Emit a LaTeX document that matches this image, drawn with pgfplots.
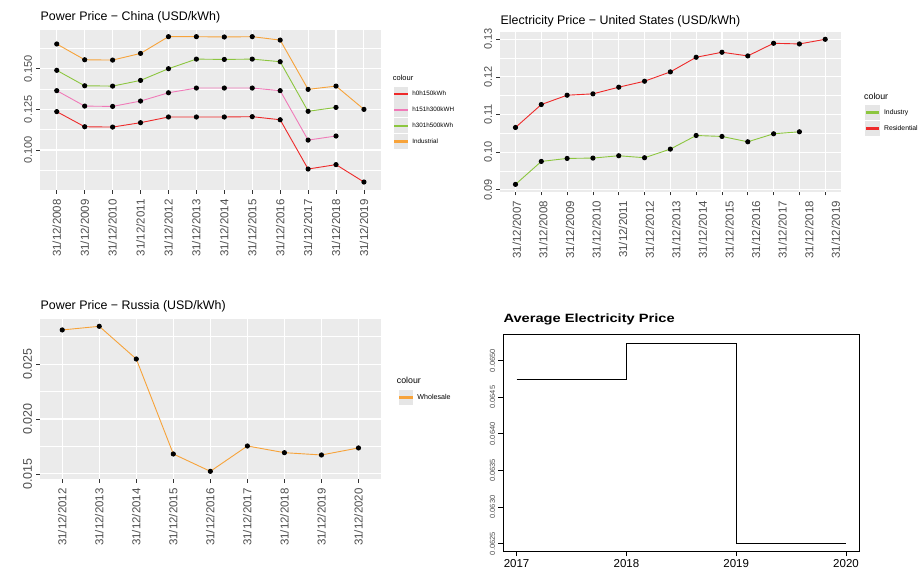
\documentclass[border=0pt]{standalone}
\usepackage{fontspec}
\setmainfont{Liberation Sans}
\usepackage{pgfplots}
\pgfplotsset{compat=1.18}

\definecolor{ggbg}{HTML}{EBEBEB}
\definecolor{ggkey}{HTML}{E6E6E6}
\definecolor{ggtext}{HTML}{4D4D4D}
\definecolor{ggtick}{HTML}{333333}
\definecolor{cRed}{HTML}{EE2A2A}
\definecolor{cPink}{HTML}{F07AB8}
\definecolor{cGreen}{HTML}{8CC63F}
\definecolor{cOrange}{HTML}{F7A33A}

\newcommand{\fs}[1]{\fontsize{#1}{#1}\selectfont}

\pgfplotsset{
  gg/.style={
    scale only axis,
    scaled ticks=false,
    axis background/.style={fill=ggbg},
    axis line style={draw=none},
    tick align=outside,
    xtick pos=left, ytick pos=left,
    major tick length=3.7pt,
    minor tick length=0pt,
    tick style={ggtick, line width=0.6pt},
    xmajorgrids, ymajorgrids, yminorgrids,
    major grid style={white, line width=1.1pt},
    minor grid style={white, line width=0.55pt},
    xticklabel style={rotate=90, anchor=east, inner sep=0pt, text=ggtext, font=\fs{11.5}},
    xticklabel shift=5.5pt,
    yticklabel style={rotate=90, anchor=south, inner sep=0pt, text=ggtext},
    yticklabel shift=4pt,
    clip=false,
    legend cell align=left,
    legend style={draw=none, fill=none, inner sep=0pt, row sep=1pt,
      nodes={inner sep=0pt}, anchor=north west},
  },
  % legend key: grey square with a coloured bar, plus a 4.5pt gap before the text
  gglegend/.style={legend image code/.code={\fill[ggkey] (0pt,-7pt) rectangle (13.5pt,7pt);
      \fill[#1] (0.5pt,-0.8pt) rectangle (13pt,0.8pt);
      \path (18pt,0pt);}},
  ggline/.style={color=#1, line width=0.9pt, mark=*, mark size=2.1pt,
    mark options={black, fill=black, solid}, gglegend=#1},
}

\begin{document}
\begin{tikzpicture}
\useasboundingbox (0,0) rectangle (919pt,574pt);

% China
\begin{axis}[gg, at={(40pt,384pt)}, anchor=south west,
  width=340.7pt, height=160pt,
  xmin=-0.6, xmax=11.6, ymin=0.0754, ymax=0.1738,
  xtick={0,...,11},
  xticklabels={31/12/2008,31/12/2009,31/12/2010,31/12/2011,31/12/2012,31/12/2013,
    31/12/2014,31/12/2015,31/12/2016,31/12/2017,31/12/2018,31/12/2019},
  ytick={0.100,0.125,0.150}, yticklabels={0.100,0.125,0.150},
  minor ytick={0.0875,0.1125,0.1375,0.1625},
  yticklabel style={font=\fs{11}},
  legend style={at={(1.037,0.648)}, font=\fs{6.3}},
]
\addplot[ggline=cRed] coordinates {(0,0.1236) (1,0.1143) (2,0.1141) (3,0.1168)
  (4,0.1203) (5,0.1203) (6,0.1203) (7,0.1205) (8,0.1186) (9,0.0883) (10,0.0910) (11,0.0803)};
\addlegendentry{h0h150kWh}
\addplot[ggline=cPink] coordinates {(0,0.1365) (1,0.1270) (2,0.1268) (3,0.1301)
  (4,0.1352) (5,0.1381) (6,0.1381) (7,0.1381) (8,0.1365) (9,0.1061) (10,0.1086)};
\addlegendentry{h151h300kWH}
\addplot[ggline=cGreen] coordinates {(0,0.1490) (1,0.1395) (2,0.1393) (3,0.1428)
  (4,0.1500) (5,0.1559) (6,0.1557) (7,0.1559) (8,0.1543) (9,0.1238) (10,0.1262)};
\addlegendentry{h301h500kWh}
\addplot[ggline=cOrange] coordinates {(0,0.1652) (1,0.1555) (2,0.1553) (3,0.1594)
  (4,0.1697) (5,0.1697) (6,0.1695) (7,0.1697) (8,0.1676) (9,0.1373) (10,0.1393) (11,0.1250)};
\addlegendentry{Industrial}
\end{axis}

% United States
\begin{axis}[gg, at={(500pt,382.3pt)}, anchor=south west,
  width=340.7pt, height=159.4pt,
  xmin=-0.6, xmax=12.6, ymin=0.08947, ymax=0.13186,
  xtick={0,...,12}, xticklabels={},
  extra x ticks={0.05,1.08,2.11,3.14,4.17,5.20,6.23,7.26,8.29,9.32,10.35,11.38,12.41},
  extra x tick labels={31/12/2007,31/12/2008,31/12/2009,31/12/2010,31/12/2011,31/12/2012,
    31/12/2013,31/12/2014,31/12/2015,31/12/2016,31/12/2017,31/12/2018,31/12/2019},
  extra x tick style={grid=none, major tick length=0pt, xticklabel shift=9.2pt},
  ytick={0.09,0.10,0.11,0.12,0.13}, yticklabels={0.09,0.10,0.11,0.12,0.13},
  minor ytick={0.095,0.105,0.115,0.125},
  yticklabel style={font=\fs{11}},
  legend style={at={(1.0713,0.544)}, font=\fs{6.8}},
]
\addplot[ggline=cGreen] coordinates {(0,0.09142) (1,0.09752) (2,0.09832) (3,0.09841)
  (4,0.09903) (5,0.09850) (6,0.10080) (7,0.10442) (8,0.10416) (9,0.10274) (10,0.10487) (11,0.10540)};
\addlegendentry{Industry}
\addplot[ggline=cRed] coordinates {(0,0.10655) (1,0.11265) (2,0.11513) (3,0.11549)
  (4,0.11726) (5,0.11885) (6,0.12133) (7,0.12522) (8,0.12655) (9,0.12558) (10,0.12894)
  (11,0.12876) (12,0.13000)};
\addlegendentry{Residential}
\end{axis}

% Russia
\begin{axis}[gg, at={(40pt,95pt)}, anchor=south west,
  width=340.7pt, height=159.7pt,
  xmin=-0.6, xmax=8.6, ymin=0.01453, ymax=0.02909,
  xtick={0,...,8},
  xticklabels={31/12/2012,31/12/2013,31/12/2014,31/12/2015,31/12/2016,31/12/2017,
    31/12/2018,31/12/2019,31/12/2020},
  ytick={0.015,0.020,0.025}, yticklabels={0.015,0.020,0.025},
  minor ytick={0.0175,0.0225,0.0275},
  yticklabel style={font=\fs{12.5}},
  legend style={at={(1.0517,0.559)}, font=\fs{7.1}},
]
\addplot[ggline=cOrange] coordinates {(0,0.02812) (1,0.02845) (2,0.02547) (3,0.01681)
  (4,0.01523) (5,0.01754) (6,0.01693) (7,0.01672) (8,0.01736)};
\addlegendentry{Wholesale}
\end{axis}

% Average
\begin{axis}[scale only axis, scaled ticks=false, at={(503.3pt,23pt)}, anchor=south west,
  width=356pt, height=216.7pt,
  xmin=2016.879, xmax=2020.121, ymin=0.06240, ymax=0.06536,
  axis line style={black, line width=0.8pt},
  tick align=outside, xtick pos=left, ytick pos=left,
  major tick length=5pt, tick style={black, line width=0.8pt},
  xtick={2017,2018,2019,2020}, xticklabels={2017,2018,2019,2020},
  ytick={0.0625,0.0630,0.0635,0.0640,0.0645,0.0650},
  yticklabels={0.0625,0.0630,0.0635,0.0640,0.0645,0.0650},
  xticklabel style={font=\fs{11.5}, inner sep=0pt},
  xticklabel shift=3.5pt,
  yticklabel style={rotate=90, anchor=south, font=\fs{7.5}, text=gray!60!black, inner sep=0pt},
  yticklabel shift=3pt,
]
\addplot[const plot, black, line width=0.8pt] coordinates {(2017,0.06475) (2018,0.06524)
  (2019,0.0625) (2020,0.0625)};
\end{axis}

\node[anchor=base west, font=\fs{12.4}, inner sep=0pt] at (40.5pt,553.9pt) {Power Price − China (USD/kWh)};
\node[anchor=base west, font=\fs{12.4}, inner sep=0pt] at (500.5pt,549.9pt) {Electricity Price − United States (USD/kWh)};
\node[anchor=base west, font=\fs{12.4}, inner sep=0pt] at (40.5pt,264.9pt) {Power Price − Russia (USD/kWh)};
\node[anchor=base west, font=\bfseries\fs{12}, inner sep=0pt, xscale=1.22] at (503.3pt,251.7pt) {Average Electricity Price};

\node[anchor=west, font=\fs{7.5}, inner sep=0pt] at (392.7pt,495.7pt) {colour};
\node[anchor=west, font=\fs{8.8}, inner sep=0pt] at (864pt,478pt) {colour};
\node[anchor=west, font=\fs{8.8}, inner sep=0pt] at (396.7pt,193.3pt) {colour};
\end{tikzpicture}
\end{document}
